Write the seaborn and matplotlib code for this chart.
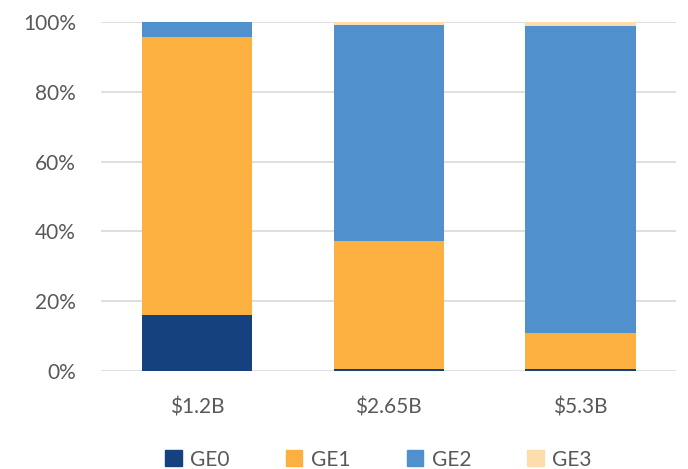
import matplotlib
matplotlib.use("Agg")
import matplotlib.pyplot as plt
import matplotlib.patches as mpatches
from matplotlib.ticker import PercentFormatter
import numpy as np
import seaborn as sns

# Budget levels and the share of each GE tier (percent)
categories = ["$1.2B", "$2.65B", "$5.3B"]
ge0 = [16.0, 0.7, 0.7]
ge1 = [79.7, 36.5, 10.2]
ge2 = [4.3, 61.9, 87.9]
ge3 = [0.0, 0.9, 1.2]

series_names = ["GE0", "GE1", "GE2", "GE3"]
series_values = [ge0, ge1, ge2, ge3]
colors = ["#15427F", "#FBB040", "#4F90CD", "#FDDDAB"]

sns.set_theme(style="white")
plt.rcParams["font.family"] = ["Lato", "DejaVu Sans"]
text_color = "#595959"

fig = plt.figure(figsize=(6.88, 4.69), dpi=100)
ax = fig.add_axes([0.147, 0.209, 0.836, 0.744])

bottom = np.zeros(len(categories))
for name, vals, col in zip(series_names, series_values, colors):
    sns.barplot(x=categories, y=vals, bottom=bottom, color=col, width=0.575,
                ax=ax, saturation=1, linewidth=0, zorder=3)
    bottom = bottom + np.array(vals)

ax.set_ylim(0, 100)
ax.set_xlim(-0.5, len(categories) - 0.5)
ax.set_yticks(np.arange(0, 101, 20))
ax.yaxis.set_major_formatter(PercentFormatter(decimals=0))
ax.grid(axis="y", color="#D9D9D9", linewidth=1.2, zorder=0)
ax.grid(axis="x", visible=False)
for s in ax.spines.values():
    s.set_visible(False)
ax.tick_params(axis="y", length=0, pad=18, labelsize=15, labelcolor=text_color)
ax.tick_params(axis="x", length=0, pad=19, labelsize=15, labelcolor=text_color)
ax.set_xlabel("")
ax.set_ylabel("")

handles = [mpatches.Patch(color=c, label=n) for n, c in zip(series_names, colors)]
leg = fig.legend(handles=handles, loc="center", bbox_to_anchor=(0.55, 0.02),
                 ncol=4, frameon=False, fontsize=15, handlelength=0.8, handleheight=0.8,
                 handletextpad=0.4, columnspacing=2.7, borderpad=0)
for t in leg.get_texts():
    t.set_color(text_color)

fig.savefig("out.png", dpi=100)
